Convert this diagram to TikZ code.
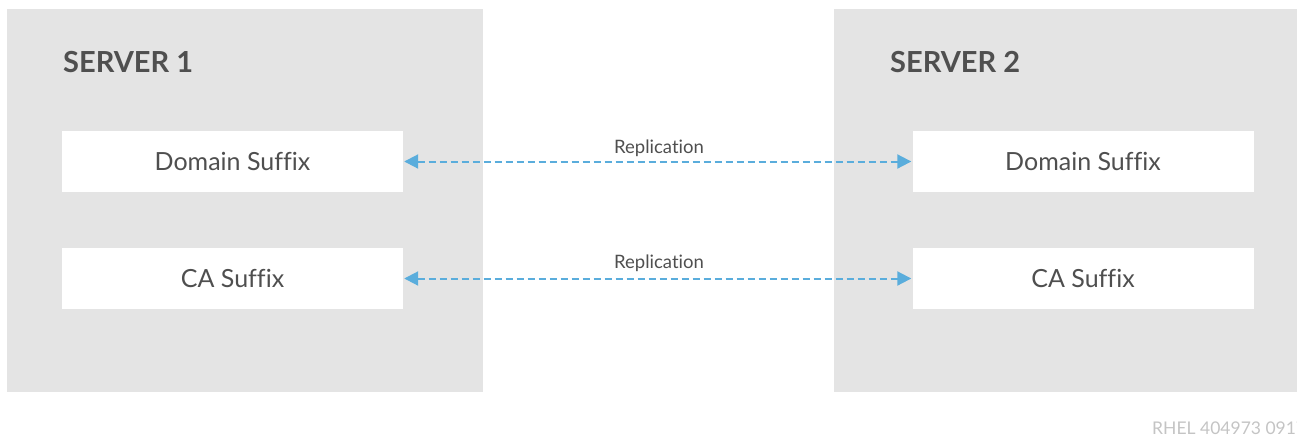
\documentclass[tikz,border=0pt]{standalone}
\usepackage{fontspec}
\setmainfont[Ligatures={NoCommon}]{Lato}
\usetikzlibrary{arrows.meta}
\definecolor{srvgray}{HTML}{E4E4E4}
\definecolor{txtgray}{HTML}{4F4F4F}
\definecolor{repblue}{HTML}{5AADDC}
\definecolor{footgray}{HTML}{C4C4C4}
\tikzset{
  server/.style={fill=srvgray, draw=none, anchor=north west, inner sep=0pt},
  suffix/.style={fill=white, draw=none, minimum width=341pt, minimum height=61pt, inner sep=0pt, text=txtgray, font=\fontsize{25}{28}\selectfont},
  title/.style={anchor=base west, inner sep=0pt, text=txtgray, font=\fontsize{29}{33}\selectfont\bfseries},
  replink/.style={draw=repblue, line width=2pt, dash pattern=on 7pt off 4pt, {Triangle[length=14pt,width=14pt]}-{Triangle[length=14pt,width=14pt]}, shorten <=1pt, shorten >=1pt},
  replabel/.style={text=txtgray, font=\fontsize{18.5}{22}\selectfont, inner sep=0pt, anchor=base}
}
\begin{document}
\begin{tikzpicture}[x=1pt,y=-1pt]
\useasboundingbox (0,0) rectangle (1297,434);
\clip (0,0) rectangle (1297,434);
\node[server, minimum width=476pt, minimum height=383pt] (s1) at (7,9) {};
\node[server, minimum width=463pt, minimum height=383pt] (s2) at (834,9) {};
\node[title] (t1) at (63,72) {SERVER 1};
\node[title] (t2) at (890,72) {SERVER 2};
\node[suffix] (d1) at (232.5,161.5) {Domain Suffix};
\node[suffix] (c1) at (232.5,278.5) {CA Suffix};
\node[suffix] (d2) at (1083,161.5) {Domain Suffix};
\node[suffix] (c2) at (1083,278.5) {CA Suffix};
\draw[replink] (d1.east) -- (d2.west);
\draw[replink] (c1.east) -- (c2.west);
\node[replabel] (r1) at (659,153) {Replication};
\node[replabel] (r2) at (659,268) {Replication};
\node[anchor=base west, inner sep=0pt, text=footgray, font=\fontsize{17.5}{20}\selectfont] (ft) at (1152,434) {RHEL 404973 0917};
\end{tikzpicture}
\end{document}
